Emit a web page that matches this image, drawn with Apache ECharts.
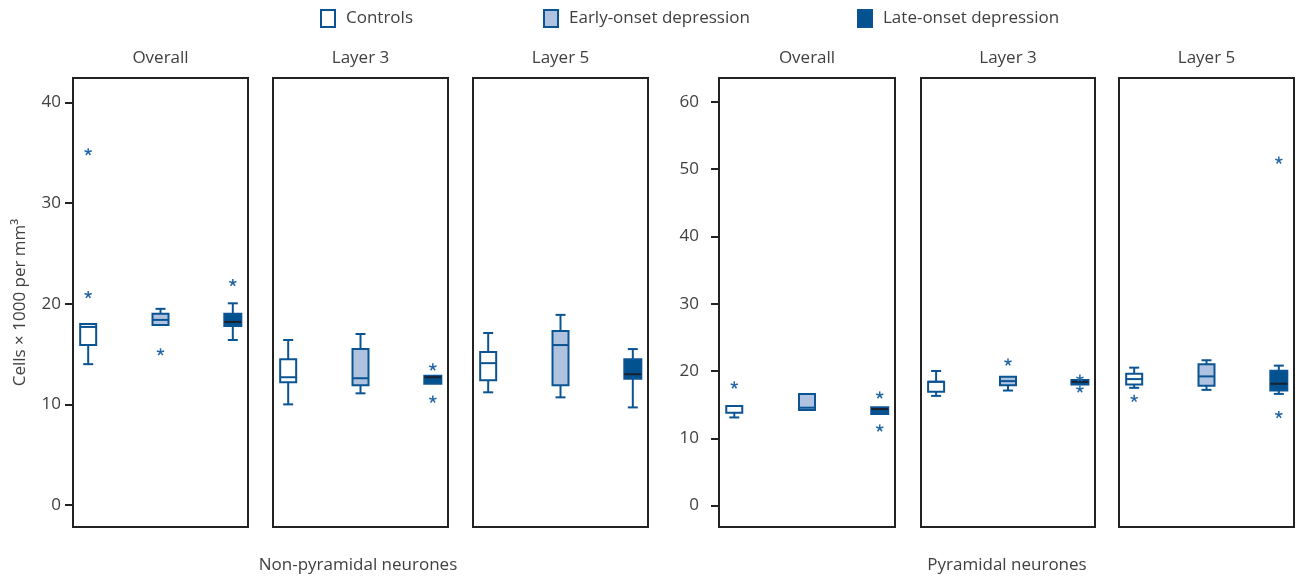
<!DOCTYPE html>
<html>
<head>
<meta charset="utf-8">
<script src="https://cdn.jsdelivr.net/npm/echarts@6/dist/echarts.min.js"></script>
<style>
  html, body { margin: 0; padding: 0; background: #ffffff; }
  #chart { width: 1296px; height: 579px; }
</style>
</head>
<body>
<div id="chart"></div>
<script>
// ---- data ---------------------------------------------------------------
const groupNames = ['Controls', 'Early-onset depression', 'Late-onset depression'];
const panelTitles = ['Overall', 'Layer 3', 'Layer 5', 'Overall', 'Layer 3', 'Layer 5'];
const cellTypes = ['Non-pyramidal neurones', 'Pyramidal neurones'];
const yAxisTitle = 'Cells \u00d7 1000 per mm\u00b3';
const nonPyramidalTicks = [0, 10, 20, 30, 40];
const pyramidalTicks = [0, 10, 20, 30, 40, 50, 60];

// five-number summaries per panel: [lower whisker, Q1, median, Q3, upper whisker]
const controlsBoxes = [
  [14.0, 15.9, 17.7, 18.0, 18.0],
  [10.0, 12.2, 12.7, 14.5, 16.4],
  [11.2, 12.4, 14.1, 15.2, 17.1],
  [13.1, 13.8, 14.8, 14.8, 14.8],
  [16.3, 16.9, 18.4, 18.4, 20.0],
  [17.5, 18.0, 18.8, 19.6, 20.5]
];
const earlyBoxes = [
  [17.9, 17.9, 18.4, 19.0, 19.5],
  [11.1, 11.9, 12.6, 15.5, 17.0],
  [10.7, 11.9, 15.9, 17.3, 18.9],
  [14.2, 14.2, 14.55, 16.6, 16.6],
  [17.1, 17.9, 18.5, 19.15, 19.15],
  [17.2, 17.8, 19.2, 21.0, 21.6]
];
const lateBoxes = [
  [16.4, 17.8, 18.2, 19.0, 20.05],
  [12.05, 12.05, 12.7, 12.85, 12.85],
  [9.7, 12.55, 13.0, 14.5, 15.5],
  [13.6, 13.6, 14.35, 14.6, 14.6],
  [18.0, 18.0, 18.4, 18.65, 18.65],
  [16.6, 17.1, 18.1, 20.05, 20.8]
];

// outlying cases per panel
const controlsOutliers = [[20.9, 35.1], [], [], [17.9], [], [15.9]];
const earlyOutliers = [[15.2], [], [], [], [21.3], []];
const lateOutliers = [[22.1], [13.7, 10.5], [], [16.4, 11.5], [18.9, 17.3], [51.3, 13.5]];

// ---- styling ------------------------------------------------------------
const FONT = '"Open Sans", "Noto Sans", sans-serif';
const TEXT = '#404040';
const FRAME = '#222222';
const BLUE = '#0b5494';
const LIGHT = '#afc2df';
const DARK = '#02528f';
const STAR = '#1f64a6';

const groupStyles = [
  { fill: '#ffffff', stroke: BLUE, median: BLUE, boxWidth: 16 },
  { fill: LIGHT, stroke: BLUE, median: BLUE, boxWidth: 16 },
  { fill: DARK, stroke: BLUE, median: '#1b1f2b', boxWidth: 17 }
];

const panelRects = [
  { left: 73, width: 175 }, { left: 273, width: 175 }, { left: 473, width: 175 },
  { left: 719, width: 176 }, { left: 921, width: 174 }, { left: 1119, width: 175 }
];
const PLOT_TOP = 78;
const PLOT_HEIGHT = 449;
const CAP_WIDTH = 10;

const allBoxes = [controlsBoxes, earlyBoxes, lateBoxes];
const allOutliers = [controlsOutliers, earlyOutliers, lateOutliers];

// ---- renderers ----------------------------------------------------------
function boxRenderer(style) {
  return function (params, api) {
    const x = api.value(0);
    const lo = api.value(1), q1 = api.value(2), med = api.value(3), q3 = api.value(4), hi = api.value(5);
    const pLo = api.coord([x, lo]);
    const pQ1 = api.coord([x, q1]);
    const pMed = api.coord([x, med]);
    const pQ3 = api.coord([x, q3]);
    const pHi = api.coord([x, hi]);
    const cx = pMed[0];
    const hw = style.boxWidth / 2;
    const ch = CAP_WIDTH / 2;
    const lineStyle = { stroke: style.stroke, lineWidth: 2 };
    const children = [];
    if (hi > q3) {
      children.push({ type: 'line', shape: { x1: cx, y1: pQ3[1], x2: cx, y2: pHi[1] }, style: lineStyle });
      children.push({ type: 'line', shape: { x1: cx - ch, y1: pHi[1], x2: cx + ch, y2: pHi[1] }, style: lineStyle });
    }
    if (lo < q1) {
      children.push({ type: 'line', shape: { x1: cx, y1: pQ1[1], x2: cx, y2: pLo[1] }, style: lineStyle });
      children.push({ type: 'line', shape: { x1: cx - ch, y1: pLo[1], x2: cx + ch, y2: pLo[1] }, style: lineStyle });
    }
    children.push({
      type: 'rect',
      shape: { x: cx - hw, y: pQ3[1], width: hw * 2, height: pQ1[1] - pQ3[1] },
      style: { fill: style.fill, stroke: style.stroke, lineWidth: 2 }
    });
    children.push({
      type: 'line',
      shape: { x1: cx - hw, y1: pMed[1], x2: cx + hw, y2: pMed[1] },
      style: { stroke: style.median, lineWidth: 2 }
    });
    return { type: 'group', children: children };
  };
}

function renderStar(params, api) {
  const pt = api.coord([api.value(0), api.value(1)]);
  const r = 3.8;
  const children = [];
  for (let k = 0; k < 5; k++) {
    const a = -Math.PI / 2 + k * 2 * Math.PI / 5;
    children.push({
      type: 'line',
      shape: { x1: pt[0], y1: pt[1], x2: pt[0] + r * Math.cos(a), y2: pt[1] + r * Math.sin(a) },
      style: { stroke: STAR, lineWidth: 1.5 }
    });
  }
  return { type: 'group', children: children };
}

// ---- layout -------------------------------------------------------------
const grids = [], xAxes = [], yAxes = [], series = [], titles = [];

panelRects.forEach(function (rect, p) {
  const pyramidal = p >= 3;
  const firstInRow = p === 0 || p === 3;
  grids.push({
    left: rect.left, width: rect.width, top: PLOT_TOP, height: PLOT_HEIGHT,
    show: true, borderColor: FRAME, borderWidth: 2, backgroundColor: '#ffffff'
  });
  xAxes.push({
    type: 'value', gridIndex: p, min: 0.79, max: 3.21, show: false
  });
  const ticks = pyramidal ? pyramidalTicks : nonPyramidalTicks;
  yAxes.push({
    type: 'value', gridIndex: p,
    min: pyramidal ? -3.18 : -2.19,
    max: pyramidal ? 63.54 : 42.45,
    show: firstInRow,
    name: p === 0 ? yAxisTitle : '',
    nameLocation: 'middle',
    nameGap: 44,
    nameRotate: 90,
    nameTextStyle: { fontFamily: FONT, fontSize: 17, color: TEXT },
    axisLine: { show: true, lineStyle: { color: FRAME, width: 2 } },
    axisTick: { show: true, inside: false, length: 8, lineStyle: { color: FRAME, width: 2 }, customValues: ticks },
    axisLabel: { show: true, fontFamily: FONT, fontSize: 17, color: TEXT, margin: pyramidal ? 20 : 12, customValues: ticks },
    splitLine: { show: false }
  });
  titles.push({
    text: panelTitles[p], left: rect.left + rect.width / 2, top: 50, padding: 0,
    textAlign: 'center',
    textStyle: { fontFamily: FONT, fontSize: 17, fontWeight: 'normal', color: TEXT }
  });
  for (let g = 0; g < 3; g++) {
    series.push({
      type: 'custom', name: groupNames[g], xAxisIndex: p, yAxisIndex: p,
      renderItem: boxRenderer(groupStyles[g]),
      encode: { x: 0, y: [1, 2, 3, 4, 5] },
      itemStyle: { color: groupStyles[g].fill === '#ffffff' ? BLUE : groupStyles[g].fill },
      data: [[g + 1].concat(allBoxes[g][p])],
      clip: false, z: 2
    });
    series.push({
      type: 'custom', name: groupNames[g], xAxisIndex: p, yAxisIndex: p,
      renderItem: renderStar,
      encode: { x: 0, y: 1 },
      data: allOutliers[g][p].map(function (v) { return [g + 1, v]; }),
      clip: false, z: 3
    });
  }
});

titles.push({
  text: cellTypes[0], left: 358, top: 557, padding: 0, textAlign: 'center',
  textStyle: { fontFamily: FONT, fontSize: 17, fontWeight: 'normal', color: TEXT }
});
titles.push({
  text: cellTypes[1], left: 1007, top: 557, padding: 0, textAlign: 'center',
  textStyle: { fontFamily: FONT, fontSize: 17, fontWeight: 'normal', color: TEXT }
});

const legendLefts = [320, 543, 857];
const legends = groupNames.map(function (name, g) {
  const st = groupStyles[g];
  return {
    left: legendLefts[g], top: 9, padding: 0,
    itemWidth: 14, itemHeight: 17, selectedMode: false,
    textStyle: { fontFamily: FONT, fontSize: 17, color: TEXT, padding: [0, 0, 0, 6] },
    data: [{
      name: name, icon: 'rect',
      itemStyle: { color: st.fill, borderColor: BLUE, borderWidth: 2 }
    }]
  };
});

const chart = echarts.init(document.getElementById('chart'), null, { renderer: 'canvas' });
chart.setOption({
  animation: false,
  backgroundColor: '#ffffff',
  title: titles,
  legend: legends,
  grid: grids,
  xAxis: xAxes,
  yAxis: yAxes,
  series: series
});
</script>
</body>
</html>
